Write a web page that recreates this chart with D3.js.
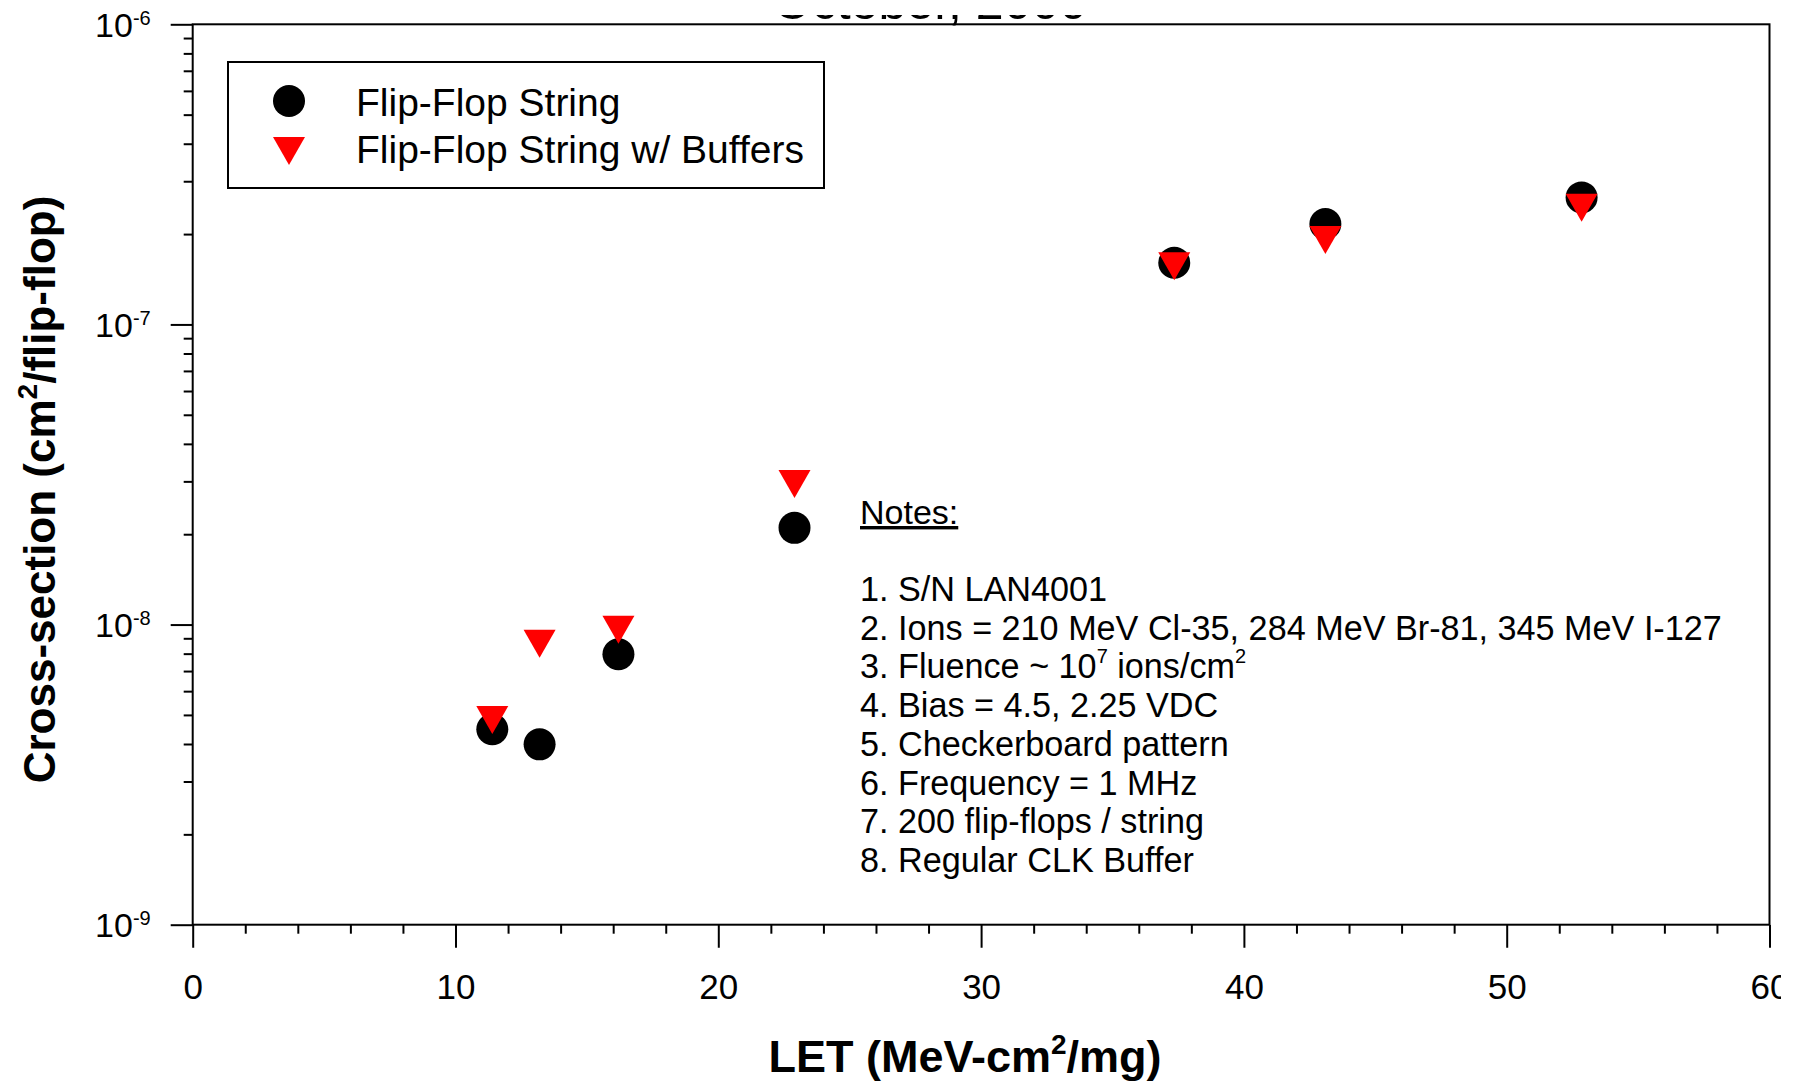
<!DOCTYPE html>
<html>
<head>
<meta charset="utf-8">
<script src="https://cdn.jsdelivr.net/npm/d3@7"></script>
<style>
  html, body { margin: 0; padding: 0; background: #fff; }
  svg { display: block; }
  text { font-family: "Liberation Sans", Arial, sans-serif; fill: #000; }
</style>
</head>
<body>
<script>
// ---- data ----
const letValues = [11.4, 13.2, 16.2, 22.9, 37.35, 43.1, 52.85];
const ffString = [4.48e-9, 3.99e-9, 7.96e-9, 2.10e-8, 1.606e-7, 2.161e-7, 2.65e-7];
const ffBuffers = [4.81e-9, 8.63e-9, 9.61e-9, 2.94e-8, 1.562e-7, 1.911e-7, 2.45e-7];
const seriesNames = ["Flip-Flop String", "Flip-Flop String w/ Buffers"];
const xTicks = [0, 10, 20, 30, 40, 50, 60];
const yTickExponents = [-9, -8, -7, -6];
const titleText = "October, 2000";
const notesLines = [
  "1. S/N LAN4001",
  "2. Ions = 210 MeV Cl-35, 284 MeV Br-81, 345 MeV I-127",
  "3. Fluence ~ 10^7 ions/cm^2",
  "4. Bias = 4.5, 2.25 VDC",
  "5. Checkerboard pattern",
  "6. Frequency = 1 MHz",
  "7. 200 flip-flops / string",
  "8. Regular CLK Buffer"
];

// ---- layout ----
const W = 1799, H = 1081;
const L = 192.7, R = 1769.5, T = 24.3, B = 924.7;

const svg = d3.select("body").append("svg").attr("width", W).attr("height", H);
const defs = svg.append("defs");
defs.append("clipPath").attr("id", "clipTitle")
  .append("rect").attr("x", 0).attr("y", 15).attr("width", W).attr("height", H);
defs.append("clipPath").attr("id", "clipRight")
  .append("rect").attr("x", 0).attr("y", 0).attr("width", 1781).attr("height", H);

const x = d3.scaleLinear().domain([0, 60]).range([L, R]);
const y = d3.scaleLog().domain([1e-9, 1e-6]).range([B, T]);

// title (clipped at top as in the reference)
svg.append("text")
  .attr("clip-path", "url(#clipTitle)")
  .attr("x", 930).attr("y", 19)
  .attr("text-anchor", "middle")
  .style("font-size", "50px")
  .text(titleText);

// ---- x axis ----
const xMinor = d3.range(0, 61, 2).filter(v => v % 10 !== 0);
const gxMinor = svg.append("g").attr("transform", `translate(0,${B})`)
  .call(d3.axisBottom(x).tickValues(xMinor).tickSize(9).tickFormat(""));
gxMinor.select(".domain").remove();
gxMinor.selectAll(".tick text").remove();

const gx = svg.append("g").attr("transform", `translate(0,${B})`)
  .attr("clip-path", "url(#clipRight)")
  .call(d3.axisBottom(x).tickValues(xTicks).tickSize(23).tickPadding(26).tickFormat(d3.format("d")));
gx.select(".domain").remove();
gx.selectAll(".tick text").style("font-size", "35px").attr("fill", "#000");

// ---- y axis ----
const yMinor = [];
for (let e = -9; e < -6; e++) for (let m = 2; m <= 9; m++) yMinor.push(m * Math.pow(10, e));
const gyMinor = svg.append("g").attr("transform", `translate(${L},0)`)
  .call(d3.axisLeft(y).tickValues(yMinor).tickSize(9).tickFormat(""));
gyMinor.select(".domain").remove();
gyMinor.selectAll(".tick text").remove();

const yMajor = yTickExponents.map(e => Math.pow(10, e));
const gy = svg.append("g").attr("transform", `translate(${L},0)`)
  .call(d3.axisLeft(y).tickValues(yMajor).tickSize(22).tickFormat(""));
gy.select(".domain").remove();
gy.selectAll(".tick text").each(function(d) {
  const t = d3.select(this);
  const e = Math.round(Math.log10(d));
  t.attr("x", -42).attr("y", 12).attr("dy", null)
    .attr("text-anchor", "end").attr("fill", "#000")
    .style("font-size", "34px");
  t.append("tspan").text("10");
  t.append("tspan").attr("dy", -12).style("font-size", "20px").text(String(e));
});

svg.selectAll(".tick line").attr("stroke", "#000").attr("stroke-width", 2);

// frame
svg.append("rect")
  .attr("x", L).attr("y", T).attr("width", R - L).attr("height", B - T)
  .attr("fill", "none").attr("stroke", "#000").attr("stroke-width", 2);

// ---- axis titles ----
const xt = svg.append("text")
  .attr("x", 965).attr("y", 1072)
  .attr("text-anchor", "middle")
  .style("font-size", "45px").style("font-weight", "bold");
xt.append("tspan").text("LET (MeV-cm");
xt.append("tspan").attr("dy", -18).style("font-size", "28px").text("2");
xt.append("tspan").attr("dy", 18).text("/mg)");

const yt = svg.append("text")
  .attr("transform", "translate(55,489.5) rotate(-90)")
  .attr("text-anchor", "middle")
  .style("font-size", "44px").style("font-weight", "bold");
yt.append("tspan").text("Cross-section (cm");
yt.append("tspan").attr("dy", -18).style("font-size", "28px").text("2");
yt.append("tspan").attr("dy", 18).text("/flip-flop)");

// ---- markers ----
const triPath = "M-16,-14L16,-14L0,14Z";
const ptsA = letValues.map((v, i) => ({ x: v, y: ffString[i] }));
const ptsB = letValues.map((v, i) => ({ x: v, y: ffBuffers[i] }));

svg.append("g").selectAll("circle").data(ptsA).join("circle")
  .attr("cx", d => x(d.x)).attr("cy", d => y(d.y)).attr("r", 16)
  .attr("fill", "#000");

svg.append("g").selectAll("path").data(ptsB).join("path")
  .attr("d", triPath)
  .attr("transform", d => `translate(${x(d.x)},${y(d.y)})`)
  .attr("fill", "#ff0000");

// ---- legend ----
const lg = svg.append("g");
lg.append("rect").attr("x", 228).attr("y", 62).attr("width", 596).attr("height", 126)
  .attr("fill", "#fff").attr("stroke", "#000").attr("stroke-width", 2);
lg.append("circle").attr("cx", 289).attr("cy", 101).attr("r", 16).attr("fill", "#000");
lg.append("path").attr("d", triPath).attr("transform", "translate(289,151)").attr("fill", "#ff0000");
lg.append("text").attr("x", 356).attr("y", 116).style("font-size", "39px").text(seriesNames[0]);
lg.append("text").attr("x", 356).attr("y", 163).style("font-size", "39px").text(seriesNames[1]);

// ---- notes ----
const ng = svg.append("g");
ng.append("text").attr("x", 860).attr("y", 524)
  .style("font-size", "34px").style("text-decoration", "underline").text("Notes:");
notesLines.forEach((line, i) => {
  const t = ng.append("text").attr("x", 860).attr("y", 601 + i * 38.7).style("font-size", "34.2px");
  const parts = line.split(/(\^\d)/).filter(p => p);
  let pendingDy = 0;
  parts.forEach(p => {
    if (p.startsWith("^")) {
      t.append("tspan").attr("dy", -15 - pendingDy).style("font-size", "20px").text(p.slice(1));
      pendingDy = -15;
    } else {
      const s = t.append("tspan").text(p);
      if (pendingDy) s.attr("dy", -pendingDy);
      pendingDy = 0;
    }
  });
});
</script>
</body>
</html>
